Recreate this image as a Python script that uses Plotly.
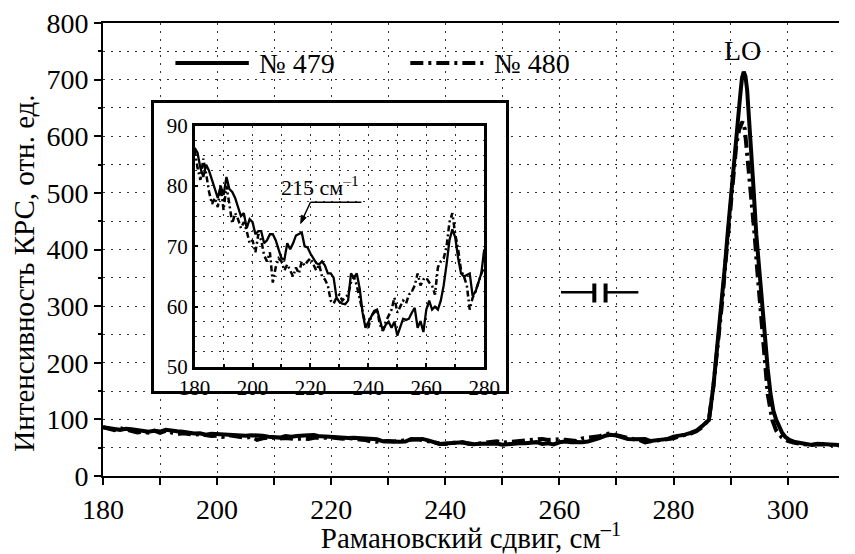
import plotly.graph_objects as go

# ---------------- data ----------------
# common low-frequency region (180-280 cm-1), shown in main plot and inset
x_low = [180, 181, 182, 183, 184, 185, 186, 187, 188, 189,
         190, 191, 192, 193, 194, 195, 196, 197, 198, 199,
         200, 201, 202, 203, 204, 205, 206, 207, 208, 209,
         210, 211, 212, 213, 214, 215, 216, 217, 218, 219,
         220, 221, 222, 223, 224, 225, 226, 227, 228, 229,
         230, 231, 232, 233, 234, 235, 236, 237, 238, 239,
         240, 241, 242, 243, 244, 245, 246, 247, 248, 249,
         250, 251, 252, 253, 254, 255, 256, 257, 258, 259,
         260, 261, 262, 263, 264, 265, 266, 267, 268, 269,
         270, 271, 272, 273, 274, 275, 276, 277, 278, 279, 280]

y_low_479 = [86.3, 85.5, 83.0, 81.5, 83.5, 82.5, 81.0, 79.5, 78.0, 80.0,
             78.5, 81.5, 79.5, 79.0, 78.0, 76.5, 75.0, 75.5, 73.0, 74.5,
             74.0, 72.0, 72.5, 72.5, 70.5, 71.0, 72.0, 72.0, 71.0, 69.5,
             68.0, 67.8, 70.5, 69.5, 70.5, 71.8, 72.0, 72.3, 70.0, 69.8,
             68.8, 68.0, 67.2, 67.0, 67.5, 66.8, 65.5, 65.5, 64.8, 61.5,
             60.8, 60.5, 60.4, 61.0, 65.5, 64.8, 65.5, 63.0, 59.0, 56.5,
             57.5, 58.5, 59.3, 59.5, 57.8, 56.0, 57.0, 57.5, 56.5, 57.5,
             55.2, 56.5, 58.0, 57.8, 58.0, 59.0, 59.8, 56.5, 57.6, 55.8,
             59.5, 61.0, 59.5, 60.0, 59.5, 61.0, 63.5, 67.0, 71.0, 72.8,
             71.5, 68.0, 65.5, 65.0, 65.2, 65.5, 61.8, 62.5, 64.0, 65.5, 69.5]

y_low_480 = [86.0, 83.0, 81.0, 84.5, 82.0, 79.0, 77.0, 78.0, 76.5, 80.0,
             76.0, 80.0, 77.0, 73.8, 75.5, 74.5, 73.0, 74.0, 72.5, 70.5,
             71.0, 69.0, 72.0, 71.0, 68.5, 67.5, 69.0, 64.0, 66.5, 68.0,
             67.5, 66.0, 67.0, 66.0, 65.0, 66.5, 65.5, 67.5, 66.8, 67.5,
             68.0, 67.0, 66.0, 67.0, 65.0, 64.5, 63.5, 61.0, 60.5, 61.5,
             62.0, 61.0, 61.5, 62.0, 64.0, 65.0, 63.5, 61.5, 59.5, 57.0,
             56.5, 58.5, 59.0, 59.5, 57.0, 56.0, 57.5, 58.5, 59.5, 61.5,
             59.0, 60.0, 61.0, 60.5, 62.0, 62.5, 63.5, 65.5, 63.5, 64.5,
             64.8, 64.0, 63.5, 62.0, 66.5, 67.5, 68.0, 70.0, 74.0, 75.5,
             72.0, 69.5, 66.0, 65.0, 63.5, 59.5, 61.5, 62.5, 64.0, 65.5, 66.5]

# LO-phonon region (281-310 cm-1)
x_peak_479 = [281, 282, 283, 284, 285, 285.5, 286.2, 287, 287.5, 288, 288.6,
              289, 289.5, 290, 290.5, 291, 291.5, 291.8, 292.0, 292.3, 292.6,
              292.9, 293.2, 293.6, 294.0, 294.5, 295.0, 295.6, 296.0, 296.5,
              297.0, 297.5, 298.0, 298.5, 299.0, 299.6, 300.3, 301.3, 302.5,
              303.5, 304.2, 305.2, 306, 307, 308, 309, 310]
y_peak_479 = [71, 73, 76, 80, 88, 93, 99, 160, 210, 260, 320,
              370, 430, 490, 545, 600, 652, 684, 703, 714, 706,
              682, 640, 575, 511, 427, 365, 299, 250, 190,
              145, 115, 99, 88, 77, 69, 64, 60, 57.5,
              56, 55, 57, 56.5, 55, 54.5, 54.5, 54]

x_peak_480 = [281, 282, 283, 284, 285, 285.5, 286.2, 287, 287.5, 288, 288.6,
              289, 289.5, 290, 290.5, 291, 291.5, 291.8, 292.1, 292.5, 293, 293.5,
              294.2, 294.7, 295.2, 295.8, 296.5, 297.3, 298, 299, 300, 301,
              302, 303, 304, 305, 306, 307, 308, 309, 310]
y_peak_480 = [70, 72, 75, 79, 86, 92, 99, 160, 205, 255, 315,
              365, 425, 485, 540, 585, 612, 622, 626, 612, 560, 495,
              427, 360, 299, 220, 145, 99, 80, 68, 62, 59,
              57, 56, 55, 56, 56, 55, 54, 54, 54]

series_names = ["№ 479", "№ 480"]
x_ticks_main = [180, 200, 220, 240, 260, 280, 300]
y_ticks_main = [0, 100, 200, 300, 400, 500, 600, 700, 800]
x_ticks_inset = [180, 200, 220, 240, 260, 280]
y_ticks_inset = [50, 60, 70, 80, 90]

main_x_479 = x_low + x_peak_479
main_y_479 = y_low_479 + y_peak_479
main_x_480 = x_low + x_peak_480
main_y_480 = y_low_480 + y_peak_480

# ---------------- style ----------------
FONT = "Liberation Serif, Times New Roman, serif"
BLACK = "#000000"
GRID = dict(gridcolor="#333333", gridwidth=1, griddash="2px,6px")
DASHDOT_MAIN = "13px,5px,3px,5px"
DASHDOT_INSET = "6px,3px,2px,3px"

W, H = 855, 554
L, R, T, B = 103, 0, 23, 78
PW, PH = W - L - R, H - T - B


def px(xp):
    return (xp - L) / PW


def py(yp):
    return (H - B - yp) / PH


fig = go.Figure()

fig.add_trace(go.Scatter(x=main_x_479, y=main_y_479, mode="lines", name=series_names[0],
                         line=dict(color=BLACK, width=4), showlegend=False))
fig.add_trace(go.Scatter(x=main_x_480, y=main_y_480, mode="lines", name=series_names[1],
                         line=dict(color=BLACK, width=4, dash=DASHDOT_MAIN), showlegend=False))
# frame subplot for the inset (white background + box)
fig.add_trace(go.Scatter(x=[], y=[], xaxis="x2", yaxis="y2", showlegend=False, hoverinfo="skip"))
# inset data
fig.add_trace(go.Scatter(x=x_low, y=y_low_479, mode="lines", xaxis="x3", yaxis="y3",
                         line=dict(color=BLACK, width=2.3), showlegend=False))
fig.add_trace(go.Scatter(x=x_low, y=y_low_480, mode="lines", xaxis="x3", yaxis="y3",
                         line=dict(color=BLACK, width=2.5, dash=DASHDOT_INSET), showlegend=False))

axis_font = dict(family=FONT, size=28, color=BLACK)
inset_font = dict(family=FONT, size=21, color=BLACK)

fig.update_layout(
    width=W, height=H,
    margin=dict(l=L, r=R, t=T, b=B, pad=0),
    paper_bgcolor="white", plot_bgcolor="white",
    font=dict(family=FONT, color=BLACK),
    xaxis=dict(range=[180, 309], tickvals=x_ticks_main, ticks="outside", ticklen=7, tickwidth=2,
               tickcolor=BLACK, showline=True, linewidth=2, linecolor=BLACK, mirror=True,
               showgrid=False, zeroline=False, tickfont=axis_font,
               minor=dict(dtick=10, tick0=180, ticks="outside", ticklen=7, tickwidth=2,
                          tickcolor=BLACK, showgrid=True, **GRID),
               title=dict(text="Рамановский сдвиг, см<sup>–1</sup>", font=dict(family=FONT, size=29),
                          standoff=6)),
    yaxis=dict(range=[0, 800], tickvals=y_ticks_main, ticks="outside", ticklen=7, tickwidth=2,
               tickcolor=BLACK, showline=True, linewidth=2, linecolor=BLACK,
               showgrid=True, zeroline=False, tickfont=axis_font, **GRID,
               minor=dict(dtick=50, tick0=0, ticks="outside", ticklen=3, tickwidth=1.5,
                          tickcolor=BLACK, showgrid=True, **GRID)),
    xaxis2=dict(domain=[px(155.5), px(514.5)], anchor="y2", range=[0, 1], showline=True, mirror=True,
                linewidth=2.5, linecolor=BLACK, showgrid=False, zeroline=False,
                showticklabels=False, ticks="", fixedrange=True),
    yaxis2=dict(domain=[py(391), py(103)], anchor="x2", range=[0, 1], showline=True, mirror=True,
                linewidth=2.5, linecolor=BLACK, showgrid=False, zeroline=False,
                showticklabels=False, ticks="", fixedrange=True),
    xaxis3=dict(domain=[px(196.6), px(492.5)], anchor="y3", range=[180, 280], tickvals=x_ticks_inset,
                ticks="inside", ticklen=4, tickwidth=1.5, tickcolor=BLACK,
                showline=True, mirror=True, linewidth=2.5, linecolor=BLACK,
                showgrid=True, zeroline=False, tickfont=inset_font, **GRID,
                minor=dict(dtick=10, tick0=180, ticks="inside", ticklen=3, tickcolor=BLACK,
                           showgrid=True, **GRID)),
    yaxis3=dict(domain=[py(367), py(125.6)], anchor="x3", range=[50, 90], tickvals=y_ticks_inset,
                ticks="inside", ticklen=4, tickwidth=1.5, tickcolor=BLACK,
                showline=True, mirror=True, linewidth=2.5, linecolor=BLACK,
                showgrid=True, zeroline=False, tickfont=inset_font, **GRID,
                minor=dict(dtick=2.5, tick0=50, ticks="", showgrid=True, **GRID)),
)

shapes = []
# legend samples
shapes.append(dict(type="line", xref="paper", yref="paper", x0=px(177), x1=px(252), y0=py(63), y1=py(63),
                   line=dict(color=BLACK, width=4)))
shapes.append(dict(type="line", xref="paper", yref="paper", x0=px(417), x1=px(493), y0=py(63), y1=py(63),
                   line=dict(color=BLACK, width=4, dash=DASHDOT_MAIN)))
# capacitor-like symbol
shapes.append(dict(type="line", xref="paper", yref="paper", x0=px(571), x1=px(604), y0=py(292.3), y1=py(292.3),
                   line=dict(color=BLACK, width=2.5)))
shapes.append(dict(type="line", xref="paper", yref="paper", x0=px(605), x1=px(605), y0=py(283.5), y1=py(302.5),
                   line=dict(color=BLACK, width=4)))
shapes.append(dict(type="line", xref="paper", yref="paper", x0=px(616.5), x1=px(616.5), y0=py(283.5), y1=py(302.5),
                   line=dict(color=BLACK, width=4)))
shapes.append(dict(type="line", xref="paper", yref="paper", x0=px(618), x1=px(650), y0=py(292.3), y1=py(292.3),
                   line=dict(color=BLACK, width=2.5)))
# leader and arrow of the 215 cm-1 label
shapes.append(dict(type="line", xref="paper", yref="paper", x0=px(315), x1=px(367), y0=py(202.3), y1=py(202.3),
                   line=dict(color=BLACK, width=1.5)))
shapes.append(dict(type="line", xref="paper", yref="paper", x0=px(315), x1=px(307), y0=py(202.3), y1=py(219),
                   line=dict(color=BLACK, width=1.5)))
tip = (305, 223.5)
b1 = (310.6, 217.6)
b2 = (305.6, 215.2)
shapes.append(dict(type="path", xref="paper", yref="paper",
                   path=f"M{px(tip[0])},{py(tip[1])} L{px(b1[0])},{py(b1[1])} L{px(b2[0])},{py(b2[1])} Z",
                   fillcolor=BLACK, line=dict(color=BLACK, width=1)))
fig.update_layout(shapes=shapes)

annotations = [
    dict(text=series_names[0], xref="paper", yref="paper", x=px(260), y=py(63), xanchor="left", yanchor="middle",
         showarrow=False, font=dict(family=FONT, size=28, color=BLACK)),
    dict(text=series_names[1], xref="paper", yref="paper", x=px(500), y=py(63), xanchor="left", yanchor="middle",
         showarrow=False, font=dict(family=FONT, size=28, color=BLACK)),
    dict(text="LO", xref="paper", yref="paper", x=px(756.5), y=py(51), xanchor="center", yanchor="middle",
         showarrow=False, font=dict(family=FONT, size=28, color=BLACK)),
    dict(text="215 см<sup>–1</sup>", xref="paper", yref="paper", x=px(283), y=py(186), xanchor="left",
         yanchor="middle", showarrow=False, font=dict(family=FONT, size=22, color=BLACK)),
    dict(text="Интенсивность КРС, отн. ед.", xref="paper", yref="paper", x=px(22), y=py(273),
         xanchor="center", yanchor="middle", textangle=-90, showarrow=False,
         font=dict(family=FONT, size=29, color=BLACK)),
]
fig.update_layout(annotations=annotations)

fig.write_html("out.html")
